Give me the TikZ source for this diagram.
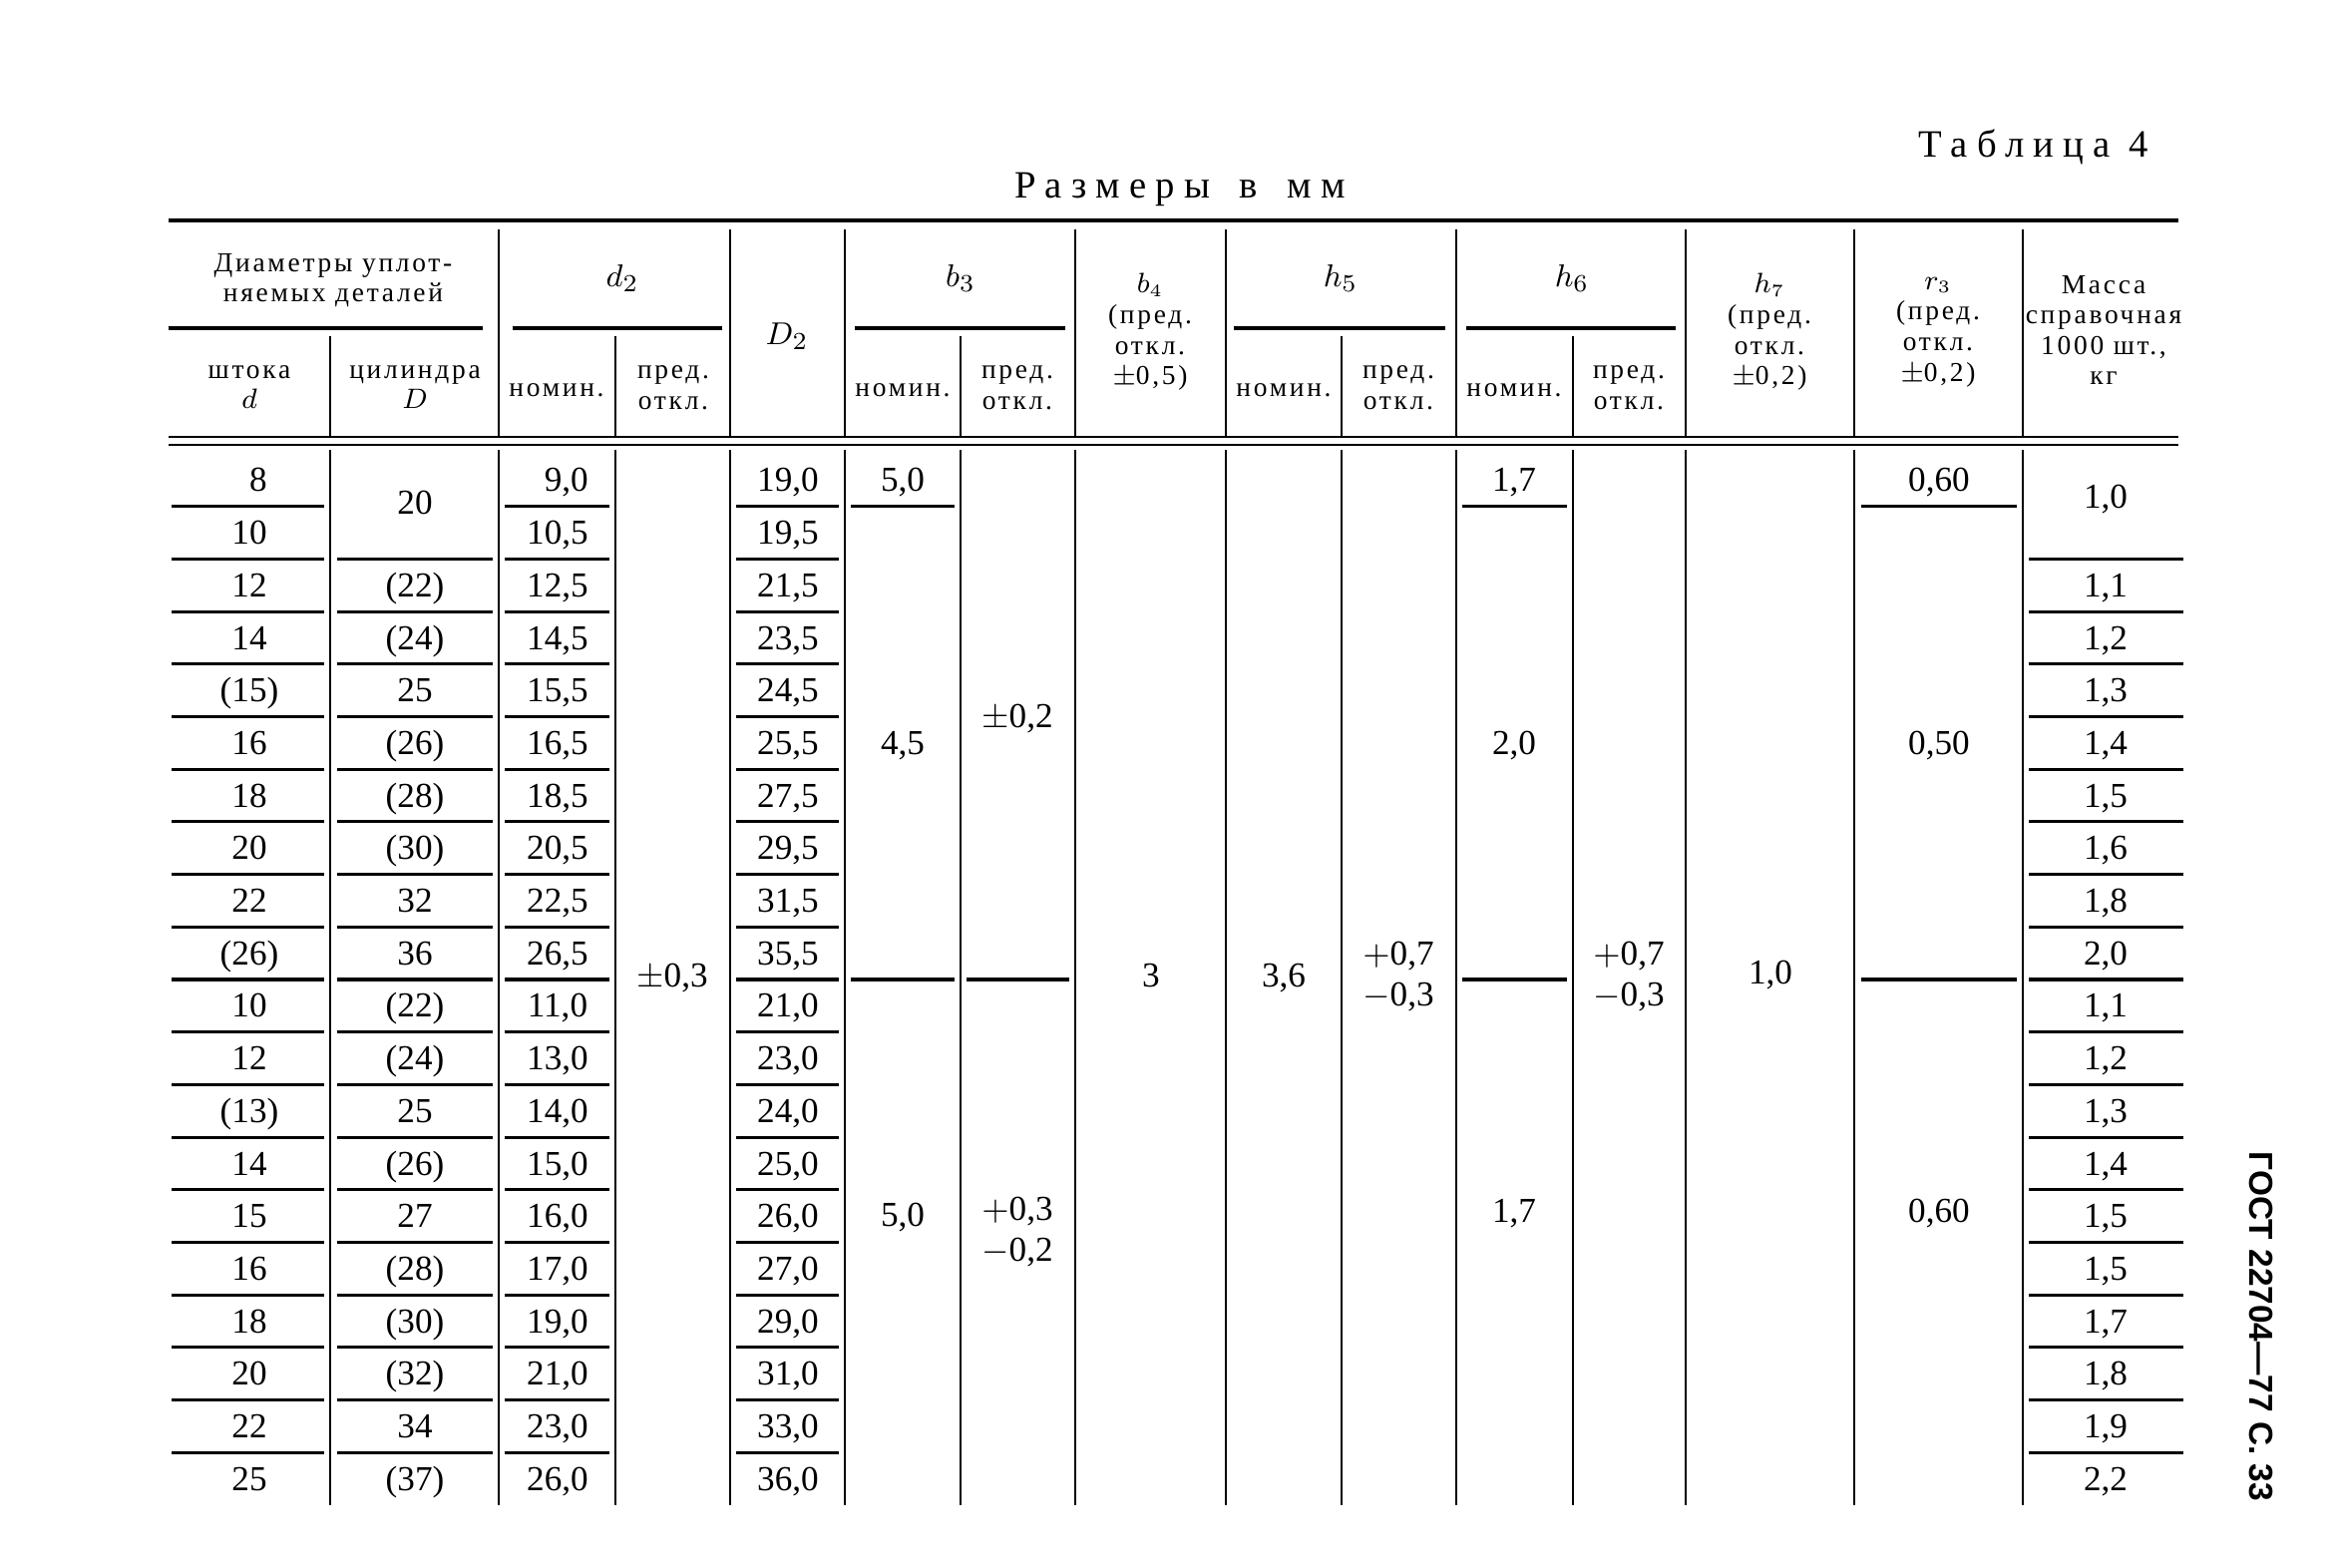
\documentclass[tikz,border=0pt]{standalone}
\usepackage{fontspec}
\setmainfont{Liberation Serif}
\newfontfamily\headfont[LetterSpace=10]{Liberation Serif}
\newfontfamily\capfont[LetterSpace=24]{Liberation Serif}
\newfontfamily\sidefont{Liberation Sans}

\tikzset{
  val/.style={font=\fontsize{10}{12}\selectfont, inner sep=0pt, text height=6.6pt, text depth=0pt},
  tol/.style={font=\fontsize{10}{11.4}\selectfont, inner sep=0pt, align=center},
  head/.style={font=\headfont\fontsize{7.8}{8.7}\selectfont, inner sep=0pt, align=center},
  sym/.style={font=\fontsize{9.5}{11}\selectfont, inner sep=0pt},
  caption/.style={font=\capfont\fontsize{11}{13}\selectfont, inner sep=0pt},
  heavyrule/.style={line width=1.3pt},
  thinrule/.style={line width=0.8pt},
  grouprule/.style={line width=1pt},
  cellrule/.style={line width=0.9pt},
  colrule/.style={line width=0.7pt}
}

\begin{document}
\begin{tikzpicture}[x=0.01cm,y=-0.01cm,
  declare function={rowy(\n)=455+(\n-0.5)*52.7; ruley(\n)=455+\n*52.7;}]
\useasboundingbox (0,0) rectangle (2341,1572);

% titles
\node[caption, anchor=east] (tablica) at (2155,147) {Таблица 4};
\node[caption] (razmery) at (1183,190) {Размеры\hspace{3pt} в\hspace{3pt} мм};
\node[rotate=-90, inner sep=0pt, font=\sidefont\bfseries\fontsize{9.5}{11}\selectfont] (gost) at (2267,1330) {ГОСТ 22704—77 С. 33};

% outer rules
\draw[heavyrule] (169,221) -- (2184,221);
\draw[thinrule] (169,438) -- (2184,438);
\draw[thinrule] (169,446) -- (2184,446);

% header grid
\foreach \x in {500,732,847,1078,1229,1460,1690,1859,2028}
  \draw[colrule] (\x,230) -- (\x,437);
\foreach \x in {331,617,963,1345,1577}
  \draw[colrule] (\x,337) -- (\x,437);
\foreach \a/\b in {169/484,514/724,857/1068,1237/1449,1470/1680}
  \draw[grouprule] (\a,329) -- (\b,329);

% header text
\node[head] (h-diam) at (334,281) {Диаметры уплот-\\няемых деталей};
\node[head] (h-shtok) at (250,388) {штока\\$d$};
\node[head] (h-cyl) at (416,388) {цилиндра\\$D$};
\node[sym] (h-dtwo) at (624,279) {$d_2$};
\node[head] (h-dnom) at (558,391) {номин.};
\node[head] (h-dtol) at (675,389) {пред.\\откл.};
\node[sym] (h-Dtwo) at (789,337) {$D_2$};
\node[sym] (h-bthree) at (963,279) {$b_3$};
\node[head] (h-bnom) at (905,391) {номин.};
\node[head] (h-btol) at (1020,389) {пред.\\откл.};
\node[head] (h-bfour) at (1153,333) {$b_4$\\(пред.\\откл.\\$\pm$0,5)};
\node[sym] (h-hfive) at (1344,279) {$h_5$};
\node[head] (h-hfnom) at (1287,391) {номин.};
\node[head] (h-hftol) at (1402,389) {пред.\\откл.};
\node[sym] (h-hsix) at (1576,279) {$h_6$};
\node[head] (h-hsnom) at (1518,391) {номин.};
\node[head] (h-hstol) at (1633,389) {пред.\\откл.};
\node[head] (h-hseven) at (1774,333) {$h_7$\\(пред.\\откл.\\$\pm$0,2)};
\node[head] (h-rthree) at (1943,333) {$r_3$\\(пред.\\откл.\\$\pm$0,2)};
\node[head] (h-mass) at (2109,331) {Масса\\справочная\\1000 шт.,\\кг};

% body grid
\foreach \x in {331,500,617,732,847,963,1078,1229,1345,1460,1577,1690,1859,2028}
  \draw[colrule] (\x,451) -- (\x,1509);
\foreach \i in {1,...,19} {
  \draw[cellrule] (172,{ruley(\i)}) -- (325,{ruley(\i)});
  \draw[cellrule] (506,{ruley(\i)}) -- (611,{ruley(\i)});
  \draw[cellrule] (738,{ruley(\i)}) -- (841,{ruley(\i)});
}
\foreach \i in {2,...,19} {
  \draw[cellrule] (338,{ruley(\i)}) -- (494,{ruley(\i)});
  \draw[cellrule] (2034,{ruley(\i)}) -- (2189,{ruley(\i)});
}
\foreach \a/\b in {853/957,1466/1571,1866/2022} {
  \draw[cellrule] (\a,{ruley(1)}) -- (\b,{ruley(1)});
  \draw[cellrule] (\a,{ruley(10)}) -- (\b,{ruley(10)});
}
\draw[cellrule] (969,{ruley(10)}) -- (1072,{ruley(10)});

% d, D
\foreach \v [count=\i] in {\phantom{1}8,10,12,14,(15),16,18,20,22,(26),10,12,(13),14,15,16,18,20,22,25}
  \node[val] (shtok-\i) at (250,{rowy(\i)}) {\v};
\node[val] (cyl-1) at (416,504) {20};
\foreach \v [count=\i from 3] in {(22),(24),25,(26),(28),(30),32,36,(22),(24),25,(26),27,(28),(30),(32),34,(37)}
  \node[val] (cyl-\i) at (416,{rowy(\i)}) {\v};

% d2, D2
\foreach \v [count=\i] in {{\phantom{1}9,0},{10,5},{12,5},{14,5},{15,5},{16,5},{18,5},{20,5},{22,5},{26,5},
    {11,0},{13,0},{14,0},{15,0},{16,0},{17,0},{19,0},{21,0},{23,0},{26,0}}
  \node[val] (dnom-\i) at (559,{rowy(\i)}) {\v};
\node[val] (dtol) at (674,978) {$\pm$0,3};
\foreach \v [count=\i] in {{19,0},{19,5},{21,5},{23,5},{24,5},{25,5},{27,5},{29,5},{31,5},{35,5},
    {21,0},{23,0},{24,0},{25,0},{26,0},{27,0},{29,0},{31,0},{33,0},{36,0}}
  \node[val] (Dtwo-\i) at (790,{rowy(\i)}) {\v};

% b3, b4
\node[val] (bnom-1) at (905,{rowy(1)}) {5,0};
\node[val] (bnom-2) at (905,745) {4,5};
\node[val] (bnom-3) at (905,1218) {5,0};
\node[val] (btol-1) at (1020,718) {$\pm$0,2};
\node[tol] (btol-2) at (1020,1235) {$+$0,3\\$-$0,2};
\node[val] (bfour) at (1154,978) {3};

% h5, h6, h7
\node[val] (hfnom) at (1287,978) {3,6};
\node[tol] (hftol) at (1402,979) {$+$0,7\\$-$0,3};
\node[val] (hsnom-1) at (1518,{rowy(1)}) {1,7};
\node[val] (hsnom-2) at (1518,745) {2,0};
\node[val] (hsnom-3) at (1518,1214) {1,7};
\node[tol] (hstol) at (1633,979) {$+$0,7\\$-$0,3};
\node[val] (hseven) at (1775,975) {1,0};

% r3, mass
\node[val] (rthree-1) at (1944,{rowy(1)}) {0,60};
\node[val] (rthree-2) at (1944,745) {0,50};
\node[val] (rthree-3) at (1944,1214) {0,60};
\node[val] (mass-1) at (2111,498) {1,0};
\foreach \v [count=\i from 3] in {{1,1},{1,2},{1,3},{1,4},{1,5},{1,6},{1,8},{2,0},
    {1,1},{1,2},{1,3},{1,4},{1,5},{1,5},{1,7},{1,8},{1,9},{2,2}}
  \node[val] (mass-\i) at (2111,{rowy(\i)}) {\v};
\end{tikzpicture}
\end{document}
